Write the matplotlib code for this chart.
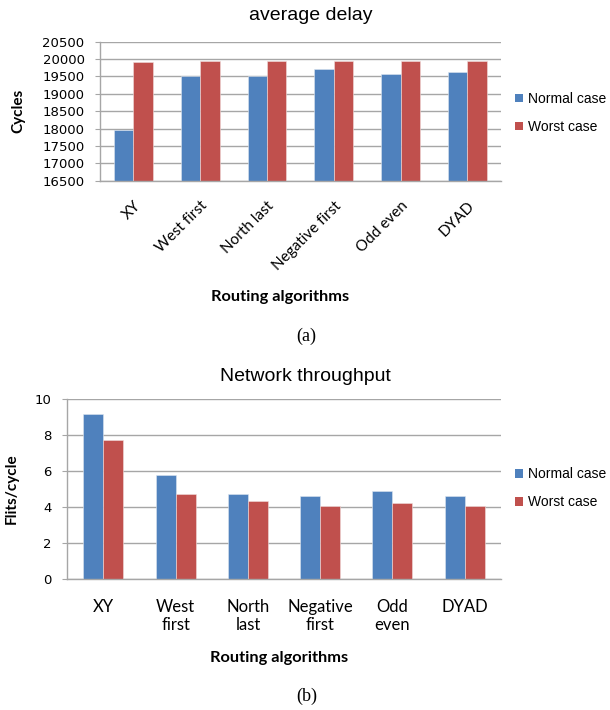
import numpy as np
import matplotlib
matplotlib.use("Agg")
import matplotlib.pyplot as plt
from matplotlib.patches import Patch

# Routing algorithms compared
algorithms = ["XY", "West first", "North last", "Negative first", "Odd even", "DYAD"]
algorithms_wrapped = ["XY", "West\nfirst", "North\nlast", "Negative\nfirst", "Odd\neven", "DYAD"]

# (a) average delay in cycles
delay_normal = [17960, 19510, 19510, 19705, 19570, 19620]
delay_worst = [19920, 19935, 19955, 19935, 19935, 19935]

# (b) network throughput in flits/cycle
thr_normal = [9.15, 5.77, 4.75, 4.62, 4.88, 4.62]
thr_worst = [7.71, 4.75, 4.33, 4.07, 4.22, 4.09]

series_names = ["Normal case", "Worst case"]
BLUE = "#4F81BD"
RED = "#C0504D"
GRID = "#A6A6A6"

NUM_FONT = "DejaVu Sans"
LABEL_FONT = "Lato"
TITLE_FONT = "Liberation Sans"

W, H = 610, 710
fig = plt.figure(figsize=(W / 100, H / 100), dpi=100)


def px(x, y):
    """Pixel position (from top-left) to figure fraction."""
    return x / W, 1 - y / H


def style_axes(ax):
    ax.set_axisbelow(True)
    ax.yaxis.grid(True, color=GRID, linewidth=1.0)
    for s in ("top", "right"):
        ax.spines[s].set_visible(False)
    for s in ("left", "bottom"):
        ax.spines[s].set_color(GRID)
        ax.spines[s].set_linewidth(1.0)
    ax.tick_params(axis="y", length=3.6, color=GRID, labelsize=9.5, pad=7.5)
    ax.tick_params(axis="x", length=0)
    for lab in ax.get_yticklabels():
        lab.set_fontfamily(NUM_FONT)


def draw_bars(ax, normal, worst, width):
    x = np.arange(len(normal))
    ax.bar(x - width / 2, normal, width, color=BLUE, edgecolor="#DDE6F0", linewidth=0.4)
    ax.bar(x + width / 2, worst, width, color=RED, edgecolor="#F0DDDD", linewidth=0.4)
    ax.set_xlim(-0.5, len(normal) - 0.5)
    return x


def add_legend(center_y_px):
    handles = [Patch(facecolor=BLUE), Patch(facecolor=RED)]
    fig.legend(handles, series_names, loc="center left",
               bbox_to_anchor=px(515, center_y_px), frameon=False,
               handlelength=0.58, handleheight=0.58, handletextpad=0.35,
               labelspacing=1.0, borderpad=0, borderaxespad=0,
               prop={"family": TITLE_FONT, "size": 10})


# ---- (a) average delay ----
ax1 = fig.add_axes([100 / W, 1 - 180.7 / H, 400.7 / W, 139 / H])
x1 = draw_bars(ax1, delay_normal, delay_worst, 0.29)
ax1.set_ylim(16500, 20500)
ax1.set_yticks(np.arange(16500, 20501, 500))
ax1.set_xticks(x1)
ax1.set_xticklabels(algorithms, rotation=45, ha="right", rotation_mode="anchor",
                    fontfamily=LABEL_FONT, fontsize=11)
style_axes(ax1)
ax1.tick_params(axis="x", pad=13)
ax1.set_ylabel("Cycles", fontfamily=LABEL_FONT, fontweight="bold", fontsize=11, labelpad=12)
fig.text(*px(311, 16), "average delay", ha="center", va="center",
         fontfamily=TITLE_FONT, fontsize=14)
fig.text(*px(280, 297), "Routing algorithms", ha="center", va="center",
         fontfamily=LABEL_FONT, fontweight="bold", fontsize=11.8)
add_legend(113)
fig.text(*px(306, 336), "(a)", ha="center", va="center",
         fontfamily="Liberation Serif", fontsize=13)

# ---- (b) network throughput ----
ax2 = fig.add_axes([67.3 / W, 1 - 579.3 / H, 433.4 / W, 180.3 / H])
x2 = draw_bars(ax2, thr_normal, thr_worst, 0.277)
ax2.set_ylim(0, 10)
ax2.set_yticks(np.arange(0, 11, 2))
ax2.set_xticks(x2)
ax2.set_xticklabels(algorithms_wrapped, va="top", linespacing=1.2,
                    fontfamily=LABEL_FONT, fontsize=12)
style_axes(ax2)
ax2.tick_params(axis="x", pad=14)
ax2.set_ylabel("Flits/cycle", fontfamily=LABEL_FONT, fontweight="bold", fontsize=11, labelpad=12)
fig.text(*px(305, 376.7), "Network throughput", ha="center", va="center",
         fontfamily=TITLE_FONT, fontsize=14)
fig.text(*px(279, 658), "Routing algorithms", ha="center", va="center",
         fontfamily=LABEL_FONT, fontweight="bold", fontsize=11.8)
add_legend(488.3)
fig.text(*px(306.5, 696.7), "(b)", ha="center", va="center",
         fontfamily="Liberation Serif", fontsize=13)

fig.savefig("out.png", dpi=100)
